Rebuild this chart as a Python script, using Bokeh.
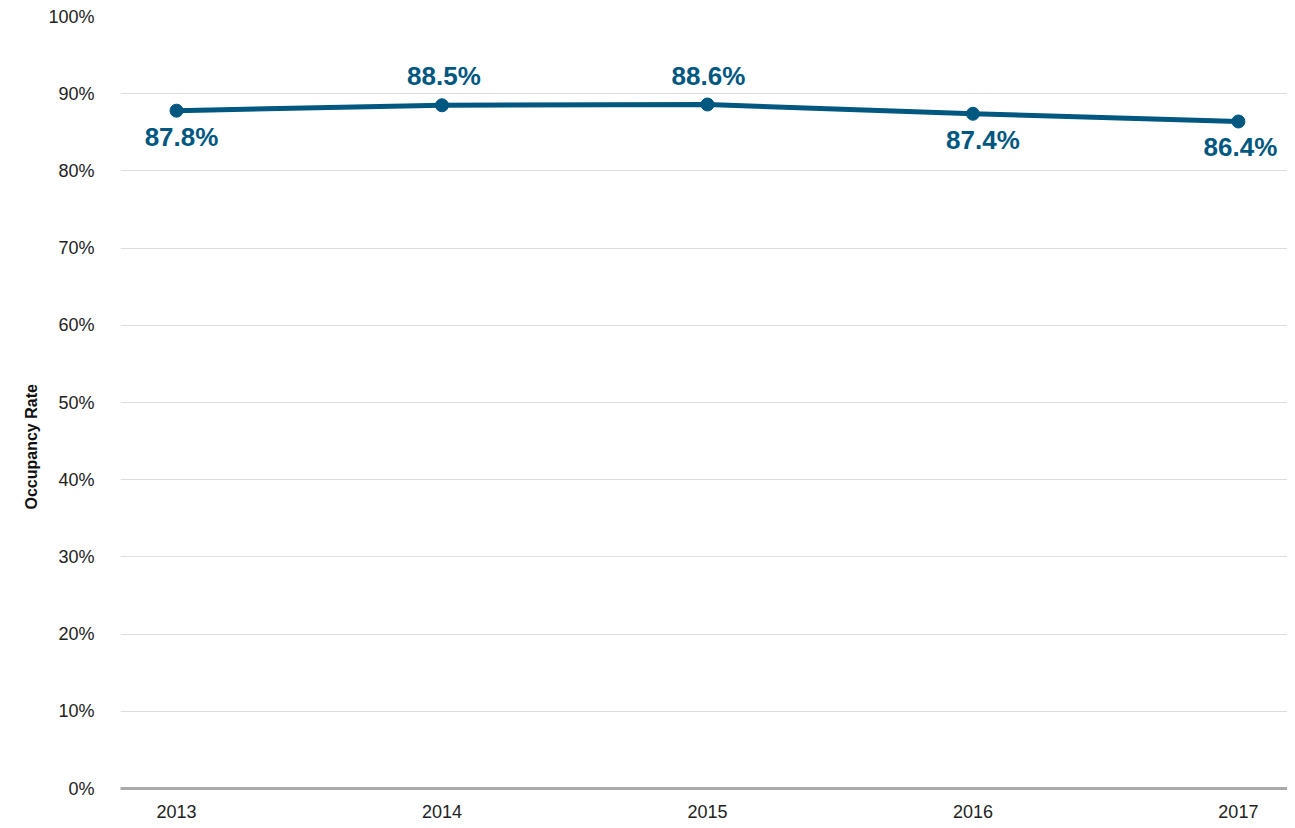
from bokeh.plotting import figure
from bokeh.models import ColumnDataSource, FixedTicker, Range1d, Title
from bokeh.core.properties import value
from bokeh.embed import file_html
from bokeh.resources import INLINE

years = ["2013", "2014", "2015", "2016", "2017"]
occupancy = [87.8, 88.5, 88.6, 87.4, 86.4]
label_side = ["below", "above", "above", "below", "below"]
y_ticks = [0, 10, 20, 30, 40, 50, 60, 70, 80, 90, 100]
y_title = "Occupancy Rate"

FONT = "Liberation Sans"
BLUE = "#00577f"

xs = list(range(len(years)))
src = ColumnDataSource(dict(
    x=xs, y=occupancy,
    label=[f"{v:.1f}%" for v in occupancy],
    yoff=[26 if s == "below" else -29 for s in label_side],
    xoff=[5, 2, 1, 10, 2],
))

p = figure(width=1287, height=820, output_backend="svg", toolbar_location=None,
           x_range=Range1d(-0.211, 4.185), y_range=Range1d(0, 100),
           min_border_left=120, min_border_right=0, min_border_top=16, min_border_bottom=29)
p.outline_line_color = None
p.background_fill_color = "white"

p.line("x", "y", source=src, line_color=BLUE, line_width=5)
p.scatter("x", "y", source=src, size=13, fill_color=BLUE, line_color=BLUE)
p.text("x", "y", text="label", source=src, x_offset="xoff", y_offset="yoff",
       text_align="center", text_baseline="middle", text_color=BLUE,
       text_font=value(FONT), text_font_style="bold", text_font_size="26px")

p.xaxis.ticker = FixedTicker(ticks=xs)
p.xaxis.major_label_overrides = {i: y for i, y in enumerate(years)}
p.xaxis.major_tick_line_color = None
p.xaxis.minor_tick_line_color = None
p.xaxis.axis_line_color = "#aaaaaa"
p.xaxis.axis_line_width = 3
p.xaxis.major_label_text_font = FONT
p.xaxis.major_label_text_font_size = "18px"
p.xaxis.major_label_text_color = "#222222"
p.xaxis.major_label_standoff = 10

p.yaxis.ticker = FixedTicker(ticks=y_ticks)
p.yaxis.major_label_overrides = {t: f"{t}%" for t in y_ticks}
p.yaxis.axis_line_color = None
p.yaxis.major_tick_line_color = None
p.yaxis.minor_tick_line_color = None
p.yaxis.major_label_text_font = FONT
p.yaxis.major_label_text_font_size = "18px"
p.yaxis.major_label_text_color = "#222222"
p.yaxis.major_label_standoff = 20

p.add_layout(Title(text=y_title, align="left", offset=279, standoff=11,
                   text_font=FONT, text_font_style="bold", text_font_size="16px",
                   text_color="#111111"), "left")

p.xgrid.grid_line_color = None
p.ygrid.grid_line_color = "#dddddd"
p.ygrid.grid_line_width = 1

open("out.html", "w").write(file_html(p, INLINE))
